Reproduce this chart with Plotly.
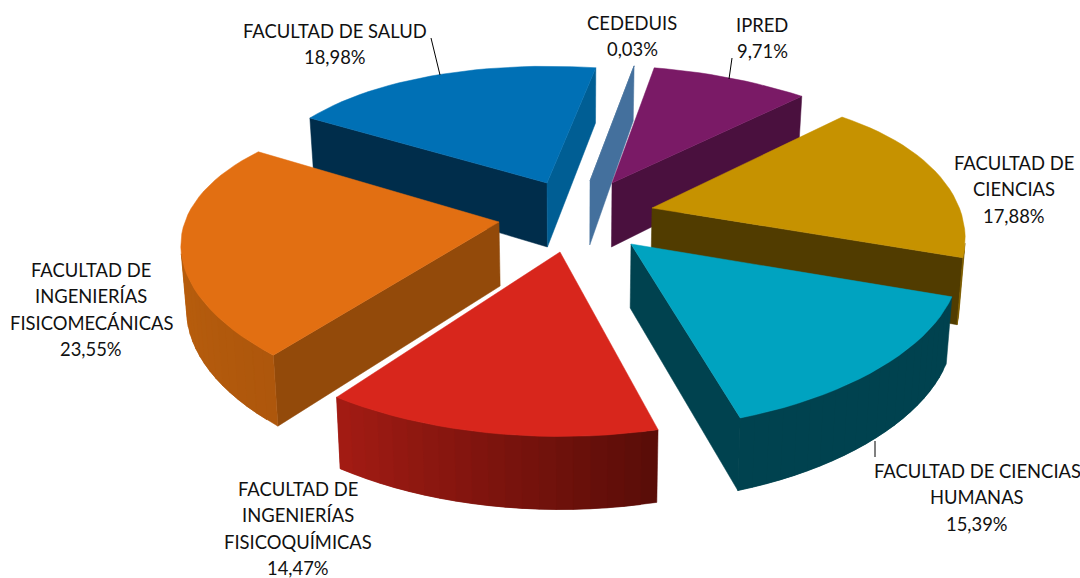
import math
import plotly.graph_objects as go

# ---- data ----
categories = ["FACULTAD DE SALUD", "CEDEDUIS", "IPRED", "FACULTAD DE CIENCIAS",
              "FACULTAD DE CIENCIAS HUMANAS", "FACULTAD DE INGENIERÍAS FISICOQUÍMICAS",
              "FACULTAD DE INGENIERÍAS FISICOMECÁNICAS"]
values = [18.98, 0.03, 9.71, 17.88, 15.39, 14.47, 23.55]
value_labels = ["18,98%", "0,03%", "9,71%", "17,88%", "15,39%", "14,47%", "23,55%"]
label_lines = [["FACULTAD DE SALUD"], ["CEDEDUIS"], ["IPRED"], ["FACULTAD DE", "CIENCIAS"],
               ["FACULTAD DE CIENCIAS", "HUMANAS"], ["FACULTAD DE", "INGENIERÍAS", "FISICOQUÍMICAS"],
               ["FACULTAD DE", "INGENIERÍAS", "FISICOMECÁNICAS"]]

# ---- styling / layout of the exploded slices ----
apex = [(547, 183), (590, 181), (612, 183), (652, 208), (631, 244), (560, 252), (499, 222)]
# small view corrections per slice, since the reference has its own 3-D perspective
adj_start = [-1.6, 0.0, 0.0, -3.3, 0.2, 1.0, 2.4]
adj_end = [0.0, 0.0, 0.0, -0.9, -2.4, -3.0, 1.5]
sx_start = [0.957, 0.93, 0.89, 1.034, 0.985, 1.0, 0.914]
sx_mid = [1.0, 0.93, 0.93, 0.975, 0.945, 1.0, 0.972]
sx_end = [1.04, 0.93, 0.965, 0.952, 0.904, 1.01, 1.014]
top_col = ["#0070B5", "#44709D", "#7A1A66", "#C69200", "#00A3C0", "#D8261C", "#E26F12"]
start_side = ["#002D4B", "#44709D", "#4A103E", "#513C00", "#00424F", "#5A0D08", "#934A0A"]
end_side = ["#005E94", "#44709D", "#4A103E", "#513C00", "#00424F", "#5A0D08", "#934A0A"]
rim_a = ["#005E94", "#44709D", "#4A103E", "#6E5100", "#00424F", "#5A0D08", "#AE570C"]
rim_b = ["#005E94", "#44709D", "#4A103E", "#7E5E00", "#00424F", "#A61C14", "#C4660F"]
draw_order = [0, 1, 2, 3, 6, 5, 4]
label_x = [335, 632, 762, 1014, 977, 298, 91]
label_y = [31, 23, 25, 163, 471, 489, 270]
LINE_H = 26.4
leaders = [((431, 38), (440, 75)), ((732, 58), (729, 79)), ((875, 441), (875, 457))]
START_ANGLE = -58.0
R, K, A = 320.0, 143.0, 0.225
VX, SHRINK = 575.0, 0.985


def proj(ax, ay, theta, sx):
    u, v = math.sin(theta), -math.cos(theta)
    p = 1.0 / (1.0 - A * v)
    return (ax + R * sx * u * p, ay + K * v * p, v)


def drop(pt):
    x, y, v = pt
    return (VX + (x - VX) * SHRINK, y + 64 + 9 * v)


def hex_lerp(c1, c2, t):
    a = [int(c1[i:i + 2], 16) for i in (1, 3, 5)]
    b = [int(c2[i:i + 2], 16) for i in (1, 3, 5)]
    return "#%02X%02X%02X" % tuple(round(x + (y - x) * t) for x, y in zip(a, b))


def sx_at(i, t):
    # smooth curve through the three scale values
    s0, s1, s2 = sx_start[i], sx_mid[i], sx_end[i]
    return s0 * (1 - t) * (1 - 2 * t) + 4 * s1 * t * (1 - t) + s2 * t * (2 * t - 1)


fig = go.Figure()


def poly(pts, color, name):
    xs = [p[0] for p in pts] + [pts[0][0]]
    ys = [p[1] for p in pts] + [pts[0][1]]
    fig.add_trace(go.Scatter(x=xs, y=ys, mode="lines", fill="toself", fillcolor=color,
                             line=dict(color=color, width=0.5), hoverinfo="skip",
                             name=name, showlegend=False))


def visible(a, b):
    q = [a[:2], b[:2], drop(b), drop(a)]
    return sum(q[i][0] * q[(i + 1) % 4][1] - q[(i + 1) % 4][0] * q[i][1] for i in range(4)) < 0


def band(points, color, name):
    # a strip of side wall running along the given top-edge points
    poly([p[:2] for p in points] + [drop(p) for p in reversed(points)], color, name)


# cumulative clockwise angles from the values
total = sum(values)
angles = []
acc = START_ANGLE
for val in values:
    angles.append((acc, acc + val / total * 360.0))
    acc += val / total * 360.0

for i in draw_order:
    ax, ay = apex[i]
    t0 = math.radians(angles[i][0] + adj_start[i])
    t1 = math.radians(angles[i][1] + adj_end[i])
    n = max(2, int(abs(angles[i][1] - angles[i][0]) / 2.5))
    rim = [proj(ax, ay, t0 + (t1 - t0) * k / n, sx_at(i, k / n)) for k in range(n + 1)]
    centre = (ax, ay, 0.0)
    if visible(centre, rim[0]):
        band([centre, rim[0]], start_side[i], categories[i])
    if visible(rim[-1], centre):
        band([rim[-1], centre], end_side[i], categories[i])
    for k in range(n):
        if visible(rim[k], rim[k + 1]):
            # each strip runs one step past its end so that no seam shows
            stop = min(k + 2, n)
            if visible(rim[stop - 1], rim[stop]):
                band(rim[k:stop + 1], hex_lerp(rim_a[i], rim_b[i], k / n), categories[i])
            else:
                band(rim[k:k + 2], hex_lerp(rim_a[i], rim_b[i], k / n), categories[i])
    poly([centre[:2]] + [r[:2] for r in rim], top_col[i], categories[i])

for (x0, y0), (x1, y1) in leaders:
    fig.add_trace(go.Scatter(x=[x0, x1], y=[y0, y1], mode="lines", hoverinfo="skip",
                             line=dict(color="#000000", width=1), showlegend=False))

for i in range(len(values)):
    for j, txt in enumerate(label_lines[i] + [value_labels[i]]):
        fig.add_annotation(x=label_x[i], y=label_y[i] + j * LINE_H, text=txt, showarrow=False,
                           xanchor="center", yanchor="middle",
                           font=dict(family="Lato", size=18.4, color="#111111"))

fig.update_layout(width=1080, height=578, margin=dict(l=0, r=0, t=0, b=0),
                  paper_bgcolor="white", plot_bgcolor="white", showlegend=False,
                  xaxis=dict(range=[0, 1080], visible=False, fixedrange=True),
                  yaxis=dict(range=[578, 0], visible=False, fixedrange=True))
fig.write_html("out.html", config=dict(displayModeBar=False),
               post_script="document.body.style.margin='0';document.body.style.overflow='hidden';")
